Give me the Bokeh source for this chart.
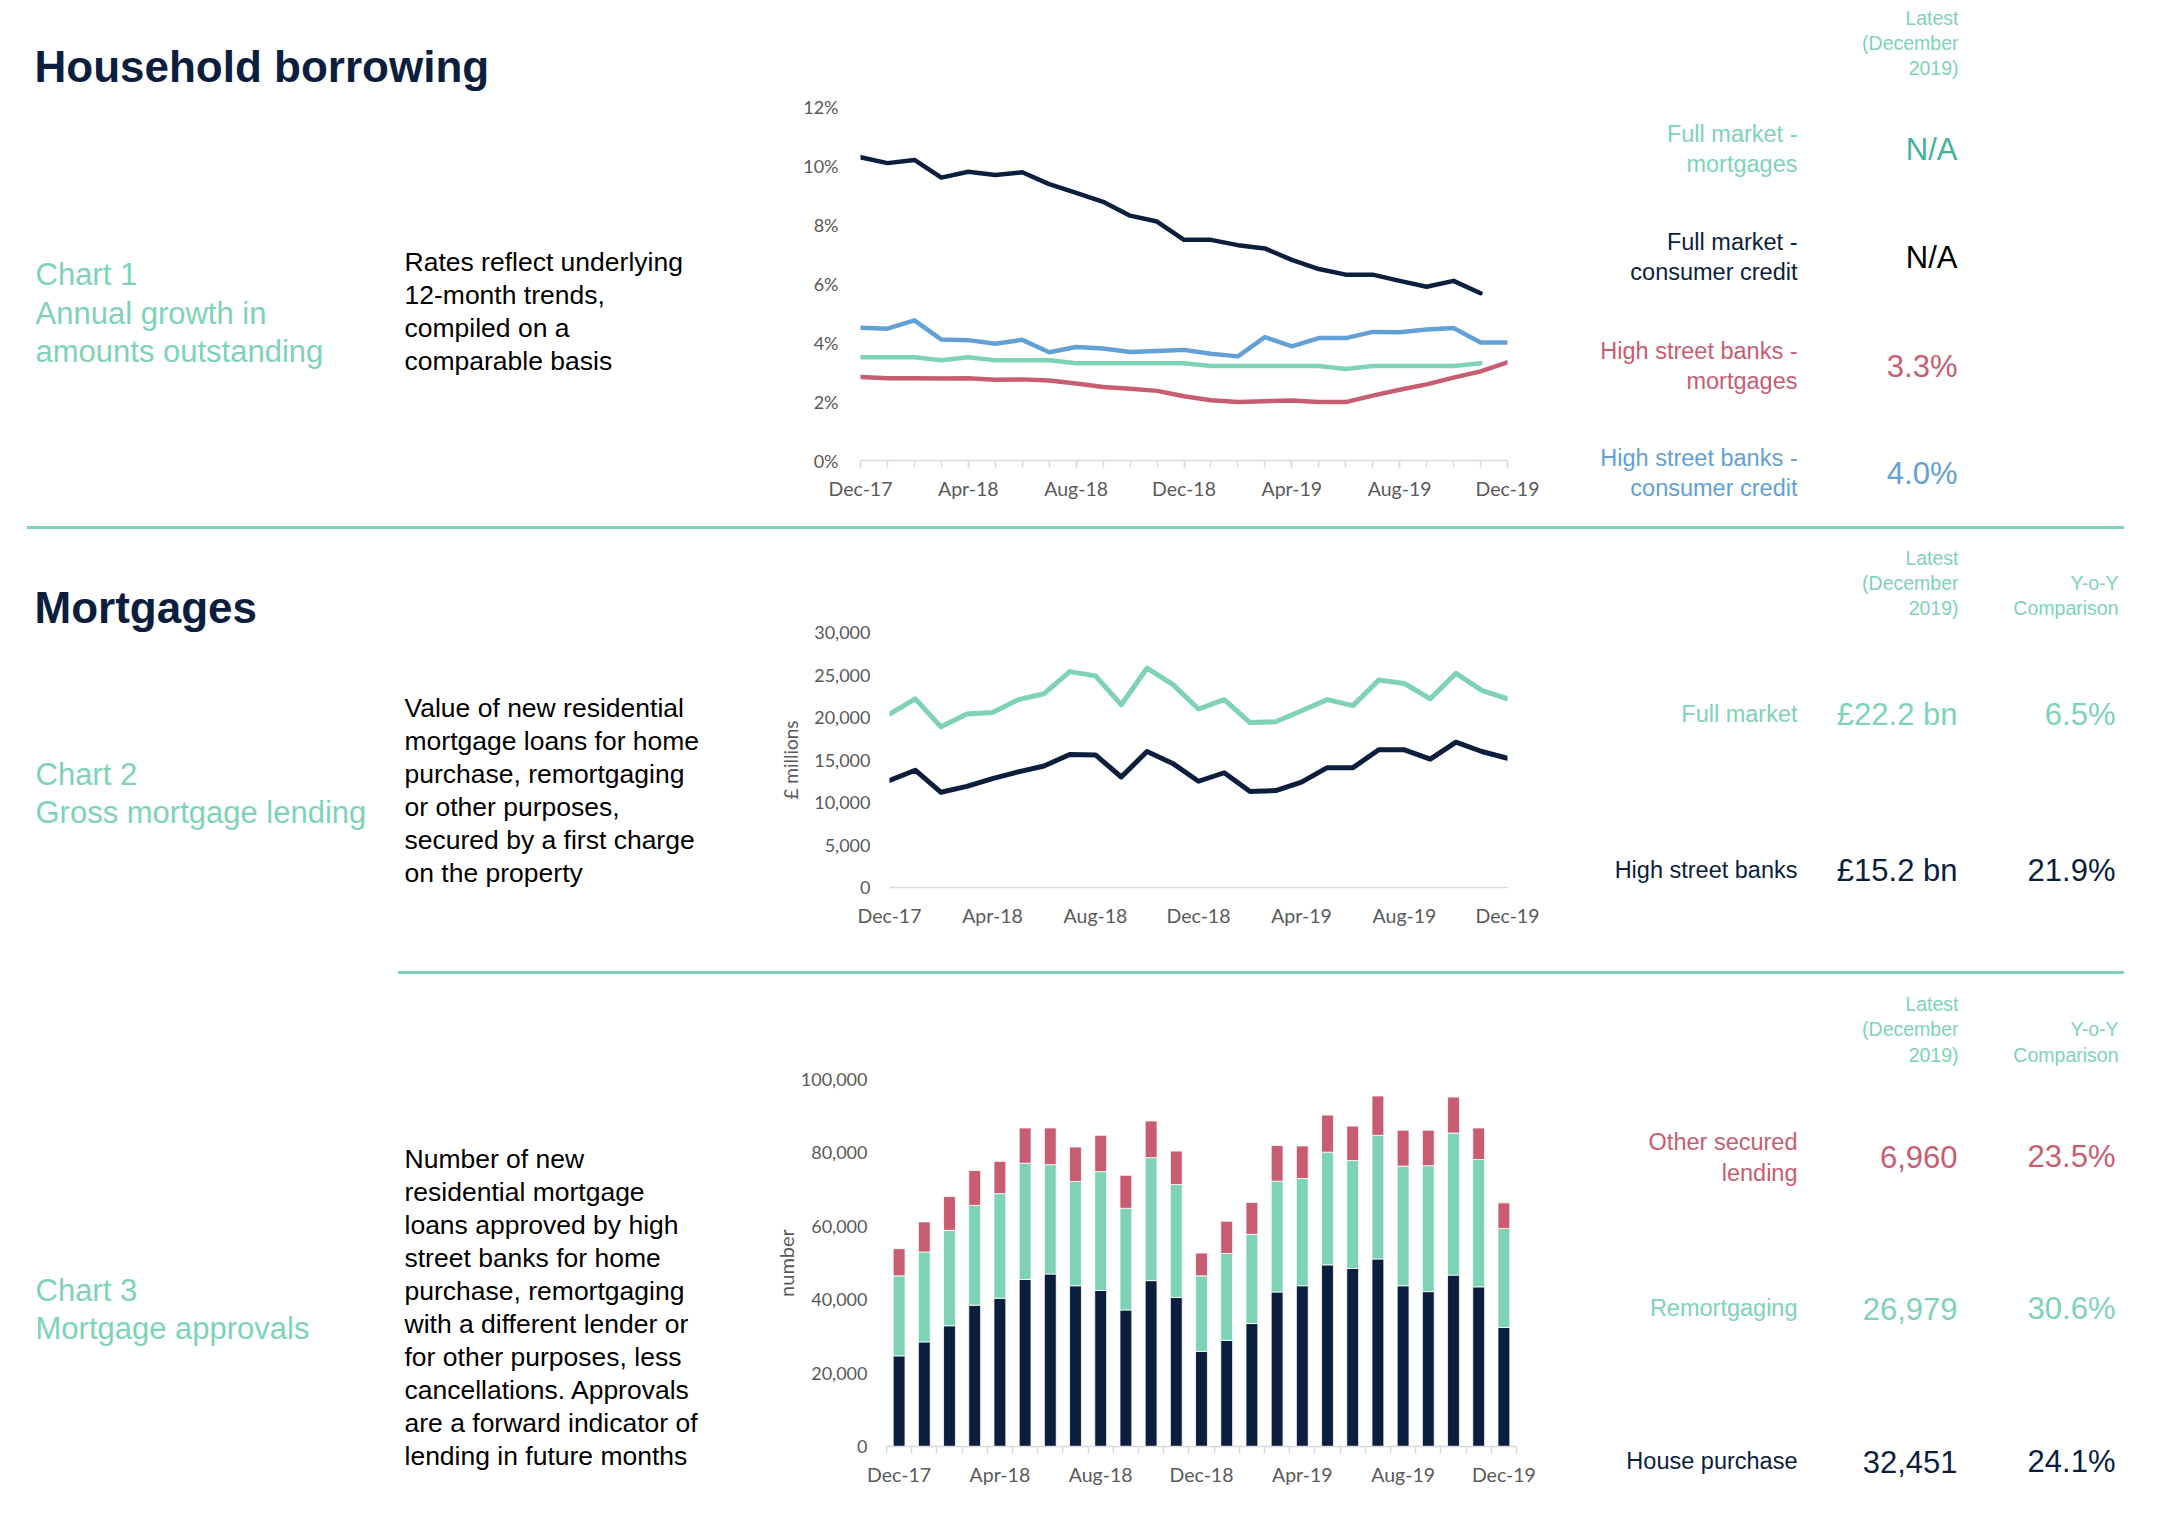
from bokeh.plotting import figure
from bokeh.layouts import column, row
from bokeh.models import (Range1d, FixedTicker, PrintfTickFormatter,
                          NumeralTickFormatter, ColumnDataSource, Div, Spacer)
from bokeh.core.properties import value
from bokeh.embed import file_html
from bokeh.resources import INLINE

# ---------------- data ----------------
months = ["Dec-17", "Jan-18", "Feb-18", "Mar-18", "Apr-18", "May-18", "Jun-18",
          "Jul-18", "Aug-18", "Sep-18", "Oct-18", "Nov-18", "Dec-18", "Jan-19",
          "Feb-19", "Mar-19", "Apr-19", "May-19", "Jun-19", "Jul-19", "Aug-19",
          "Sep-19", "Oct-19", "Nov-19", "Dec-19"]
label_every = 4

# Chart 1: annual growth in amounts outstanding (%)
fm_consumer_credit = [10.28, 10.08, 10.19, 9.59, 9.79, 9.68, 9.77, 9.37, 9.07, 8.77,
                      8.30, 8.10, 7.48, 7.48, 7.30, 7.19, 6.80, 6.49, 6.30, 6.30,
                      6.09, 5.89, 6.09, 5.67]
hsb_consumer_credit = [4.50, 4.47, 4.75, 4.10, 4.08, 3.96, 4.09, 3.67, 3.85, 3.80,
                       3.68, 3.71, 3.75, 3.62, 3.53, 4.18, 3.87, 4.15, 4.15, 4.36,
                       4.35, 4.44, 4.49, 4.00, 4.00]
fm_mortgages = [3.5, 3.5, 3.5, 3.4, 3.5, 3.4, 3.4, 3.4, 3.3, 3.3, 3.3, 3.3, 3.3,
                3.2, 3.2, 3.2, 3.2, 3.2, 3.1, 3.2, 3.2, 3.2, 3.2, 3.3]
hsb_mortgages = [2.83, 2.79, 2.79, 2.78, 2.79, 2.74, 2.75, 2.71, 2.61, 2.49, 2.43,
                 2.36, 2.18, 2.04, 1.98, 2.01, 2.03, 1.98, 1.98, 2.20, 2.40, 2.58,
                 2.81, 3.02, 3.33]
chart1_yticks = [0, 2, 4, 6, 8, 10, 12]

# Chart 2: gross mortgage lending (GBP millions)
fm_gross = [20400, 22200, 18900, 20400, 20600, 22100, 22800, 25400, 24900, 21500,
            25800, 23900, 21000, 22100, 19400, 19500, 20800, 22100, 21400, 24400,
            24000, 22200, 25200, 23200, 22200]
hsb_gross = [12600, 13800, 11200, 11900, 12800, 13600, 14300, 15650, 15600, 13000,
             16000, 14600, 12500, 13500, 11300, 11400, 12400, 14100, 14100, 16200,
             16200, 15100, 17100, 16000, 15200]
chart2_yticks = [0, 5000, 10000, 15000, 20000, 25000, 30000]

# Chart 3: mortgage approvals (number)
house_purchase = [24700, 28500, 32900, 38500, 40400, 45500, 47000, 43800, 42500,
                  37200, 45200, 40600, 25900, 28900, 33500, 42100, 43800, 49500,
                  48500, 51100, 43800, 42200, 46700, 43500, 32451]
remortgaging = [21800, 24500, 26000, 27200, 28500, 31700, 29800, 28400, 32400,
                27700, 33500, 30800, 20600, 23700, 24300, 30200, 29200, 30700,
                29400, 33700, 32600, 34300, 38700, 34700, 26979]
other_secured = [7400, 8200, 9200, 9500, 8800, 9600, 10000, 9400, 9900, 9000,
                 10000, 9100, 6200, 8800, 8700, 9700, 8900, 10100, 9400, 10700,
                 9800, 9700, 9800, 8600, 6960]
chart3_yticks = [0, 20000, 40000, 60000, 80000, 100000]

# summary panel values
mort_latest_bn = [22.2, 15.2]
mort_yoy = [6.5, 21.9]
appr_yoy = [23.5, 30.6, 24.1]

# ---------------- styling ----------------
NAVY = "#0b1e3e"
TEAL = "#7ed3b6"
TEAL_DARK = "#43b39b"
ROSE = "#c85d71"
BLUE = "#62a0d6"
GREY = "#595959"
AXIS = "#d9d9d9"
SANS = "Liberation Sans"
TICKF = "Lato"

X0, X1 = 8, 2150          # layout coordinates of the drawing
CHART_X0, CHART_X1 = 740, 1561
LAB_X, VAL_X, LATEST_X, YOY_X, YOYH_X = 1805, 1965, 1966, 2123, 2126


def text_fig(x0, x1, y0, y1):
    p = figure(width=x1 - x0, height=y1 - y0, x_range=Range1d(x0, x1),
               y_range=Range1d(y1, y0), output_backend="svg",
               toolbar_location=None, tools="", min_border=0, frame_align=False)
    p.axis.visible = False
    p.grid.visible = False
    p.outline_line_color = None
    p.background_fill_color = "white"
    p.border_fill_color = "white"
    return p


def add_lines(p, x, y, lines, size, color, align="left", spacing=0, bold=False):
    ys = [y + i * spacing for i in range(len(lines))]
    p.text(x=[x] * len(lines), y=ys, text=lines, text_font=value(SANS),
           text_font_size=f"{size}px", text_color=color, text_align=align,
           text_baseline="alphabetic",
           text_font_style="bold" if bold else "normal")


def separator(x_start, x_end=2132):
    return row(Spacer(width=x_start - X0, height=3, margin=0),
               Div(text="", width=x_end - x_start, height=3, margin=0,
                   styles={"background-color": TEAL}),
               Spacer(width=X1 - x_end, height=3, margin=0))


def chart_fig(y0, y1, fl, fr, ft, fb, xr, yr):
    p = figure(width=CHART_X1 - CHART_X0, height=y1 - y0, x_range=xr, y_range=yr,
               output_backend="svg", toolbar_location=None, tools="",
               min_border_left=fl - CHART_X0, min_border_right=CHART_X1 - fr,
               min_border_top=ft - y0, min_border_bottom=y1 - fb,
               frame_align=False)
    p.grid.visible = False
    p.outline_line_color = None
    p.background_fill_color = "white"
    p.border_fill_color = "white"
    for ax in (p.xaxis, p.yaxis):
        ax.major_label_text_font = TICKF
        ax.major_label_text_color = GREY
        ax.axis_label_text_font = TICKF
        ax.axis_label_text_font_style = "normal"
        ax.axis_label_text_color = GREY
    p.xaxis.major_label_text_font_size = "19.5px"
    p.yaxis.major_label_text_font_size = "18px"
    p.yaxis.axis_line_color = None
    p.yaxis.major_tick_line_color = None
    p.yaxis.minor_tick_line_color = None
    p.yaxis.major_tick_out = 0
    p.yaxis.minor_tick_out = 0
    p.xaxis.axis_line_color = AXIS
    p.xaxis.axis_line_width = 1.5
    p.xaxis.major_tick_line_color = AXIS
    p.xaxis.minor_tick_line_color = AXIS
    p.xaxis.major_tick_line_width = 1.5
    p.xaxis.minor_tick_line_width = 1.5
    p.xaxis.major_tick_in = 0
    p.xaxis.minor_tick_in = 0
    return p


n = len(months)
lab_idx = list(range(0, n, label_every))

# ---------------- section 1 ----------------
S1 = (8, 534)
t1 = text_fig(X0, CHART_X0, *S1)
add_lines(t1, 42, 73.5, ["Household borrowing"], 44, NAVY, bold=True)
add_lines(t1, 43, 282, ["Chart 1", "Annual growth in", "amounts outstanding"],
          31, TEAL, spacing=38.5)
add_lines(t1, 412, 269, ["Rates reflect underlying", "12-month trends,",
                         "compiled on a", "comparable basis"], 26.5, "black", spacing=33)

c1 = chart_fig(S1[0], S1[1], 868, 1515, 114, 468, Range1d(0, n - 1),
               Range1d(chart1_yticks[0], chart1_yticks[-1]))
c1.line(list(range(len(fm_consumer_credit))), fm_consumer_credit, color=NAVY,
        line_width=4.5, line_join="round", line_cap="round")
c1.line(list(range(len(hsb_consumer_credit))), hsb_consumer_credit, color=BLUE,
        line_width=4.5, line_join="round", line_cap="round")
c1.line(list(range(len(fm_mortgages))), fm_mortgages, color=TEAL,
        line_width=4.5, line_join="round", line_cap="round")
c1.line(list(range(len(hsb_mortgages))), hsb_mortgages, color=ROSE,
        line_width=4.5, line_join="round", line_cap="round")
c1.yaxis.ticker = FixedTicker(ticks=chart1_yticks)
c1.yaxis.formatter = PrintfTickFormatter(format="%d%%")
c1.yaxis.major_label_standoff = 22
c1.xaxis.ticker = FixedTicker(ticks=lab_idx, minor_ticks=list(range(n)))
c1.xaxis.major_label_overrides = {i: months[i] for i in lab_idx}
c1.xaxis.major_tick_out = 7
c1.xaxis.minor_tick_out = 7
c1.xaxis.major_label_standoff = 9

r1 = text_fig(CHART_X1, X1, *S1)
add_lines(r1, LATEST_X, 25, ["Latest", "(December", "2019)"], 19.5, TEAL,
          align="right", spacing=25)
panel1 = [(["Full market -", "mortgages"], TEAL, "N/A", TEAL_DARK, 141),
          (["Full market -", "consumer credit"], NAVY, "N/A", "black", 249),
          (["High street banks -", "mortgages"], ROSE,
           f"{hsb_mortgages[-1]:.1f}%", ROSE, 358),
          (["High street banks -", "consumer credit"], BLUE,
           f"{hsb_consumer_credit[-1]:.1f}%", BLUE, 465)]
for lines, lc, val, vc, yb in panel1:
    add_lines(r1, LAB_X, yb, lines, 23.5, lc, align="right", spacing=30.5)
    add_lines(r1, VAL_X, yb + 16, [val], 31, vc, align="right")

# ---------------- section 2 ----------------
S2 = (537, 979)
t2 = text_fig(X0, CHART_X0, *S2)
add_lines(t2, 42, 614.5, ["Mortgages"], 44, NAVY, bold=True)
add_lines(t2, 43, 781.5, ["Chart 2", "Gross mortgage lending"], 31, TEAL, spacing=38.5)
add_lines(t2, 412, 715, ["Value of new residential", "mortgage loans for home",
                         "purchase, remortgaging", "or other purposes,",
                         "secured by a first charge", "on the property"],
          26.5, "black", spacing=33)

c2 = chart_fig(S2[0], S2[1], 897, 1515, 640, 895, Range1d(0, n - 1),
               Range1d(chart2_yticks[0], chart2_yticks[-1]))
c2.line(list(range(n)), fm_gross, color=TEAL, line_width=5, line_join="round",
        line_cap="round")
c2.line(list(range(n)), hsb_gross, color=NAVY, line_width=5, line_join="round",
        line_cap="round")
c2.yaxis.ticker = FixedTicker(ticks=chart2_yticks)
c2.yaxis.formatter = NumeralTickFormatter(format="0,0")
c2.yaxis.major_label_standoff = 19
c2.yaxis.axis_label = "£ millions"
c2.yaxis.axis_label_text_font_size = "19px"
c2.yaxis.axis_label_standoff = 9
c2.xaxis.ticker = FixedTicker(ticks=lab_idx)
c2.xaxis.major_label_overrides = {i: months[i] for i in lab_idx}
c2.xaxis.major_tick_out = 0
c2.xaxis.major_label_standoff = 16

r2 = text_fig(CHART_X1, X1, *S2)
add_lines(r2, LATEST_X, 565, ["Latest", "(December", "2019)"], 19.5, TEAL,
          align="right", spacing=25)
add_lines(r2, YOYH_X, 590, ["Y-o-Y", "Comparison"], 19.5, TEAL, align="right",
          spacing=25)
panel2 = [("Full market", TEAL, 721), ("High street banks", NAVY, 877)]
for k, (lab, col, yb) in enumerate(panel2):
    add_lines(r2, LAB_X, yb, [lab], 23.5, col, align="right")
    add_lines(r2, VAL_X, yb + 1, [f"£{mort_latest_bn[k]:.1f} bn"], 31, col,
              align="right")
    add_lines(r2, YOY_X, yb + 1, [f"{mort_yoy[k]:.1f}%"], 31, col, align="right")

sep1 = separator(35)
sep2 = separator(406)

# ---------------- section 3 ----------------
S3 = (982, 1512)
t3 = text_fig(X0, CHART_X0, *S3)
add_lines(t3, 43, 1297.5, ["Chart 3", "Mortgage approvals"], 31, TEAL, spacing=38.5)
add_lines(t3, 412, 1166, ["Number of new", "residential mortgage",
                          "loans approved by high", "street banks for home",
                          "purchase, remortgaging", "with a different lender or",
                          "for other purposes, less", "cancellations.  Approvals",
                          "are a forward indicator of", "lending in future months"],
          26.5, "black", spacing=33)

src3 = ColumnDataSource(dict(x=[i + 0.5 for i in range(n)], house=house_purchase,
                             remort=remortgaging, other=other_secured))
c3 = chart_fig(S3[0], S3[1], 894, 1524, 1087, 1454, Range1d(0, n),
               Range1d(chart3_yticks[0], chart3_yticks[-1]))
c3.vbar_stack(["house", "remort", "other"], x="x", width=0.47,
              fill_color=[NAVY, TEAL, ROSE], line_color="white", line_width=0.8,
              source=src3)
c3.yaxis.ticker = FixedTicker(ticks=chart3_yticks)
c3.yaxis.formatter = NumeralTickFormatter(format="0,0")
c3.yaxis.major_label_standoff = 19
c3.yaxis.axis_label = "number"
c3.yaxis.axis_label_text_font_size = "20px"
c3.yaxis.axis_label_standoff = 0
c3.xaxis.ticker = FixedTicker(ticks=[i + 0.5 for i in lab_idx],
                              minor_ticks=list(range(n + 1)))
c3.xaxis.major_label_overrides = {i + 0.5: months[i] for i in lab_idx}
c3.xaxis.major_tick_out = 0
c3.xaxis.minor_tick_out = 7
c3.xaxis.major_label_standoff = 9

r3 = text_fig(CHART_X1, X1, *S3)
add_lines(r3, LATEST_X, 1011, ["Latest", "(December", "2019)"], 19.5, TEAL,
          align="right", spacing=25.5)
add_lines(r3, YOYH_X, 1036.5, ["Y-o-Y", "Comparison"], 19.5, TEAL, align="right",
          spacing=25.5)
panel3 = [(["Other secured", "lending"], ROSE, other_secured[-1], 1149, 15),
          (["Remortgaging"], TEAL, remortgaging[-1], 1315, 1),
          (["House purchase"], NAVY, house_purchase[-1], 1468, 1)]
for k, (lines, col, latest, yb, dv) in enumerate(panel3):
    add_lines(r3, LAB_X, yb, lines, 23.5, col, align="right", spacing=31)
    add_lines(r3, VAL_X, yb + dv, [f"{latest:,}"], 31, col, align="right")
    add_lines(r3, YOY_X, yb + dv, [f"{appr_yoy[k]:.1f}%"], 31, col, align="right")

layout = column(row(t1, c1, r1), sep1, row(t2, c2, r2), sep2, row(t3, c3, r3))

open("out.html", "w").write(file_html(layout, INLINE))
